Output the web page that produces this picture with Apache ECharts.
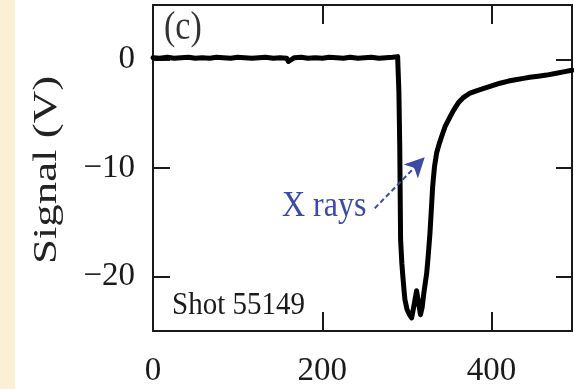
<!DOCTYPE html>
<html>
<head>
<meta charset="utf-8">
<script src="https://cdn.jsdelivr.net/npm/echarts@6/dist/echarts.min.js"></script>
<style>
  html, body { margin: 0; padding: 0; background: #ffffff; overflow: hidden; }
  #chart { width: 574px; height: 389px; }
</style>
</head>
<body>
<div id="chart"></div>
<script>
// Detector trace for shot 55149: time (x) vs signal in volts (y)
const times = [
  0, 8, 17, 25, 33, 42, 50, 58, 67, 75, 83, 92, 100, 108, 117, 125, 133, 142, 150, 158,
  160, 167, 175, 183, 192, 200, 208, 217, 225, 233, 242, 250, 258, 267, 275, 283, 289,
  290.5, 291.5, 292.5, 294, 295, 296.5, 297.6, 300, 303, 305.5,
  308, 311.4, 313.5, 316, 318, 320, 323.3, 325, 327.2, 329,
  330.4, 332.5, 335.1, 338, 341, 345, 350.9, 355, 360.7, 367,
  374.6, 382, 390, 400, 410, 420, 430, 437.6, 445, 455,
  465, 475, 485, 495
];
const signal = [
  0.15, 0.1, 0.2, 0.1, 0.15, 0.2, 0.1, 0.15, 0.1, 0.2, 0.15, 0.1, 0.2, 0.15, 0.1, 0.15, 0.2, 0.1, 0.15, 0.1,
  -0.2, 0.15, 0.2, 0.1, 0.15, 0.1, 0.2, 0.15, 0.1, 0.2, 0.1, 0.15, 0.2, 0.1, 0.15, 0.2, 0.25,
  -3, -8, -16.6, -18.8, -19.8, -21.2, -22.1, -23.0, -23.5, -23.8,
  -22.8, -21.3, -22.3, -23.5, -22.8, -21.5, -19.7, -18.2, -16.0, -13.6,
  -11.7, -9.9, -8.6, -7.8, -7.1, -6.2, -5.3, -4.7, -4.0, -3.5,
  -3.1, -2.9, -2.7, -2.45, -2.2, -2.0, -1.85, -1.75, -1.65, -1.55,
  -1.45, -1.3, -1.15, -1.0
];
const xTicks = [0, 200, 400];
const yTicks = [-20, -10, 0];
// "X rays" pointer: tail and head in data units
const arrowTail = [262, -13.7];
const arrowHead = [321, -9.0];

const axisColor = '#1a1a1a';
const serif = 'Liberation Serif';
const minus = v => String(v).replace('-', '\u2212');

const chart = echarts.init(document.getElementById('chart'), null, { renderer: 'canvas' });

function frameAxis(pos, tickLen, ticks, labels) {
  return {
    type: 'value', position: pos,
    axisLine: { onZero: false, lineStyle: { color: axisColor, width: 2 } },
    axisTick: { inside: true, length: tickLen, customValues: ticks, lineStyle: { color: axisColor, width: 2 } },
    axisLabel: labels
      ? Object.assign({ customValues: ticks }, labels)
      : { show: true, customValues: ticks, formatter: () => '' },
    splitLine: { show: false }
  };
}

const labelFont = { fontFamily: serif, fontSize: 33, color: '#1a1a1a' };

chart.setOption({
  animation: false,
  backgroundColor: '#ffffff',
  grid: { left: 153, right: 2, top: 5, bottom: 58, containLabel: false, outerBoundsMode: 'none' },
  xAxis: [
    Object.assign(frameAxis('bottom', 19, xTicks, Object.assign({ margin: 24 }, labelFont)), { min: 0, max: 495 }),
    Object.assign(frameAxis('top', 19, xTicks, null), { min: 0, max: 495 })
  ],
  yAxis: [
    Object.assign(frameAxis('left', 17, yTicks, Object.assign({ margin: 18, formatter: minus }, labelFont)), { min: -25, max: 5 }),
    Object.assign(frameAxis('right', 16, yTicks, null), { min: -25, max: 5 })
  ],
  graphic: [
    {
      type: 'rect', left: 0, top: 0, z: -10,
      shape: { width: 15, height: 389 },
      style: { fill: '#fbf0d6' }
    },
    {
      // vertical axis title, reading bottom to top
      type: 'text', x: 47, y: 170, rotation: Math.PI / 2, scaleX: 1.36,
      style: { text: 'Signal (V)', x: 0, y: 0, align: 'center', verticalAlign: 'middle',
               font: '33px "Liberation Serif"', fill: '#222' }
    },
    {
      type: 'text', x: 164, y: 8, scaleY: 1.2,
      style: { text: '(c)', font: '34px "Liberation Serif"', fill: '#333' }
    },
    {
      type: 'text', x: 172, y: 289, scaleY: 1.12,
      style: { text: 'Shot 55149', font: '29px "Liberation Serif"', fill: '#1a1a1a' }
    },
    {
      type: 'text', x: 282, y: 189, scaleY: 1.12,
      style: { text: 'X rays', font: '32px "Liberation Serif"', fill: '#3b4ba0' }
    }
  ],
  series: [
    {
      type: 'line',
      xAxisIndex: 0, yAxisIndex: 0,
      showSymbol: false,
      data: times.map((t, i) => [t, signal[i]]),
      lineStyle: { color: '#000000', width: 5, join: 'round', cap: 'round' },
      markLine: {
        silent: true,
        symbol: ['none', 'arrow'],
        symbolSize: [15, 20],
        label: { show: false },
        lineStyle: { color: '#3b4ba0', width: 2, type: [5, 3] },
        data: [[{ coord: arrowTail }, { coord: arrowHead }]]
      }
    }
  ]
});
</script>
</body>
</html>
